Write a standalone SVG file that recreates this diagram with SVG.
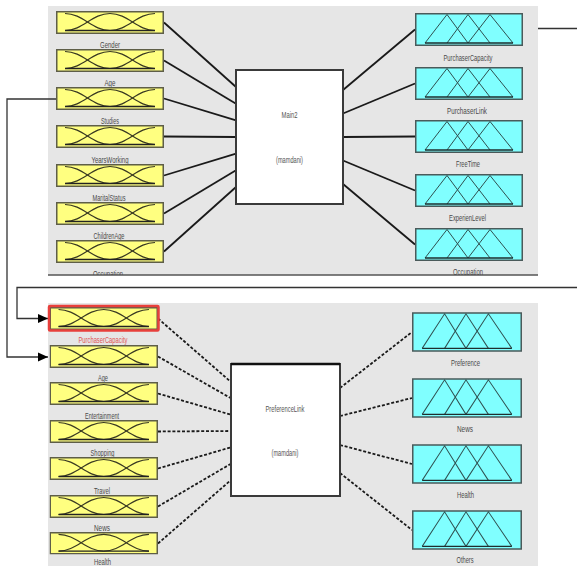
<svg xmlns="http://www.w3.org/2000/svg" xmlns:xlink="http://www.w3.org/1999/xlink" width="577" height="566" viewBox="0 0 577 566">
<style>
.lbl{font-family:"Liberation Sans",Arial,sans-serif;font-size:9px;fill:#4a4a4a;text-anchor:middle}
.red{fill:#e05555}
.con{fill:none;stroke:#1a1a1a;stroke-width:1.8}
.dash{fill:none;stroke:#1a1a1a;stroke-width:1.8;stroke-dasharray:3 1.8}
.fb{fill:none;stroke:#333;stroke-width:1.3}
.sys{fill:#fff;stroke:#3a3a3a;stroke-width:2}
.sysl{font-family:"Liberation Sans",Arial,sans-serif;font-size:9px;fill:#555;text-anchor:middle}
</style>
<defs>
<symbol id="ymf" viewBox="0 0 108 23" preserveAspectRatio="none">
<rect x="0.75" y="0.75" width="106.5" height="21.5" fill="#ffff80" stroke="#5e5e48" stroke-width="1.5" vector-effect="non-scaling-stroke"/>
<g fill="none" stroke="#3a3a22" stroke-width="1.2">
<path d="M9,2.5 C27,2.5 36,19.5 54,19.5" vector-effect="non-scaling-stroke"/>
<path d="M9,19.5 C27,19.5 36,2.5 54,2.5 C72,2.5 81,19.5 99,19.5" vector-effect="non-scaling-stroke"/>
<path d="M54,19.5 C72,19.5 81,2.5 99,2.5" vector-effect="non-scaling-stroke"/>
<path d="M9,19.5 H99" stroke="#222" stroke-width="1.3" vector-effect="non-scaling-stroke"/>
</g>
</symbol>
<symbol id="cmf" viewBox="0 0 108 33" preserveAspectRatio="none">
<rect x="0.75" y="0.75" width="106.5" height="31.5" fill="#80ffff" stroke="#4a5a5a" stroke-width="1.5" vector-effect="non-scaling-stroke"/>
<g fill="none" stroke="#2f5050" stroke-width="1">
<path d="M10,30 L32,1.5 L53,30" vector-effect="non-scaling-stroke"/>
<path d="M32,30 L53,1.5 L75,30" vector-effect="non-scaling-stroke"/>
<path d="M53,30 L75,1.5 L98,30" vector-effect="non-scaling-stroke"/>
<path d="M10,30 H98" stroke="#1e2e2e" stroke-width="1.3" vector-effect="non-scaling-stroke"/>
</g>
</symbol>
<marker id="arr" markerUnits="userSpaceOnUse" markerWidth="11" markerHeight="10" refX="10" refY="5" orient="auto">
<path d="M0,0.5 L10,5 L0,9.5 Z" fill="#000"/>
</marker>
<clipPath id="clipTop"><rect x="48" y="6" width="490" height="269"/></clipPath>
</defs>

<g id="panel-top">
<rect x="48" y="6" width="490" height="269" fill="#e6e6e6"/>
<line x1="48" y1="275" x2="538" y2="275" stroke="#555" stroke-width="1.5"/>
</g>
<g id="panel-bottom">
<rect x="48" y="303" width="490" height="263" fill="#e6e6e6"/>
</g>

<g id="connectors">
<path class="con" d="M164,22.5 L236,87"/>
<path class="con" d="M164,60.5 L236,103.7"/>
<path class="con" d="M164,98.5 L236,120.3"/>
<path class="con" d="M164,136.5 L236,137"/>
<path class="con" d="M164,175.5 L236,153.7"/>
<path class="con" d="M164,213.5 L236,170.3"/>
<path class="con" d="M164,251.5 L236,187"/>
<path class="con" d="M343,90 L415,29.5"/>
<path class="con" d="M343,113.5 L415,83.5"/>
<path class="con" d="M343,137 L415,136.5"/>
<path class="con" d="M343,160.5 L415,190.5"/>
<path class="con" d="M343,184 L415,244.5"/>
<path class="dash" d="M158,318.5 L231,382"/>
<path class="dash" d="M158,356.5 L231,398.3"/>
<path class="dash" d="M158,393.5 L231,414.7"/>
<path class="dash" d="M158,431.5 L231,431"/>
<path class="dash" d="M158,468.5 L231,447.3"/>
<path class="dash" d="M158,506.5 L231,463.7"/>
<path class="dash" d="M158,543.5 L231,480"/>
<path class="dash" d="M340,388 L412,332"/>
<path class="dash" d="M340,416 L412,398"/>
<path class="dash" d="M340,445 L412,464"/>
<path class="dash" d="M340,473 L412,530"/>
<path class="fb" d="M538,28.5 H577"/>
<path class="fb" d="M56,99 H7 V357 H48" marker-end="url(#arr)"/>
<path class="fb" d="M577,287.5 H17 V318.5 H48" marker-end="url(#arr)"/>
</g>

<g clip-path="url(#clipTop)">
<g id="in-gender"><use xlink:href="#ymf" x="56" y="11" width="108" height="23"/><text class="lbl" x="110" y="47.5" textLength="20" lengthAdjust="spacingAndGlyphs">Gender</text></g>
<g id="in-age"><use xlink:href="#ymf" x="56" y="49" width="108" height="23"/><text class="lbl" x="110" y="85.5" textLength="11" lengthAdjust="spacingAndGlyphs">Age</text></g>
<g id="in-studies"><use xlink:href="#ymf" x="56" y="87" width="108" height="23"/><text class="lbl" x="110" y="123.5" textLength="18" lengthAdjust="spacingAndGlyphs">Studies</text></g>
<g id="in-yearsworking"><use xlink:href="#ymf" x="56" y="125" width="108" height="23"/><text class="lbl" x="110" y="162.5" textLength="37" lengthAdjust="spacingAndGlyphs">YearsWorking</text></g>
<g id="in-maritalstatus"><use xlink:href="#ymf" x="56" y="164" width="108" height="23"/><text class="lbl" x="109" y="200.5" textLength="33" lengthAdjust="spacingAndGlyphs">MaritalStatus</text></g>
<g id="in-childrenage"><use xlink:href="#ymf" x="56" y="202" width="108" height="23"/><text class="lbl" x="109" y="238.5" textLength="31" lengthAdjust="spacingAndGlyphs">ChildrenAge</text></g>
<g id="in-occupation"><use xlink:href="#ymf" x="56" y="240" width="108" height="23"/><text class="lbl" x="108" y="277" textLength="30" lengthAdjust="spacingAndGlyphs">Occupation</text></g>

<g id="out-purchasercapacity"><use xlink:href="#cmf" x="415" y="13" width="108" height="33"/><text class="lbl" x="468" y="61" textLength="49" lengthAdjust="spacingAndGlyphs">PurchaserCapacity</text></g>
<g id="out-purchaserlink"><use xlink:href="#cmf" x="415" y="67" width="108" height="33"/><text class="lbl" x="467" y="114" textLength="40" lengthAdjust="spacingAndGlyphs">PurchaserLink</text></g>
<g id="out-freetime"><use xlink:href="#cmf" x="415" y="120" width="108" height="33"/><text class="lbl" x="468" y="167" textLength="24" lengthAdjust="spacingAndGlyphs">FreeTime</text></g>
<g id="out-experienlevel"><use xlink:href="#cmf" x="415" y="174" width="108" height="33"/><text class="lbl" x="467.5" y="221" textLength="37" lengthAdjust="spacingAndGlyphs">ExperienLevel</text></g>
<g id="out-occupation"><use xlink:href="#cmf" x="415" y="228" width="108" height="33"/><text class="lbl" x="468" y="275" textLength="30" lengthAdjust="spacingAndGlyphs">Occupation</text></g>
</g>

<g id="sys-main2">
<rect class="sys" x="236" y="70" width="107" height="134"/>
<text class="sysl" x="289.5" y="118" textLength="16" lengthAdjust="spacingAndGlyphs">Main2</text>
<text class="sysl" x="289.5" y="163" textLength="27" lengthAdjust="spacingAndGlyphs">(mamdani)</text>
</g>

<g id="in2-purchasercapacity">
<use xlink:href="#ymf" x="49.5" y="307" width="108.5" height="23"/>
<rect x="49" y="306" width="109.5" height="24.5" fill="none" stroke="#e8403c" stroke-width="2.5" rx="1"/>
<text class="lbl red" x="103" y="343" textLength="49" lengthAdjust="spacingAndGlyphs">PurchaserCapacity</text>
</g>
<g id="in2-age"><use xlink:href="#ymf" x="49.5" y="345" width="108.5" height="23"/><text class="lbl" x="103" y="381" textLength="10" lengthAdjust="spacingAndGlyphs">Age</text></g>
<g id="in2-entertainment"><use xlink:href="#ymf" x="49.5" y="382" width="108.5" height="23"/><text class="lbl" x="102" y="418.5" textLength="34" lengthAdjust="spacingAndGlyphs">Entertainment</text></g>
<g id="in2-shopping"><use xlink:href="#ymf" x="49.5" y="420" width="108.5" height="23"/><text class="lbl" x="102.5" y="455.5" textLength="24" lengthAdjust="spacingAndGlyphs">Shopping</text></g>
<g id="in2-travel"><use xlink:href="#ymf" x="49.5" y="457" width="108.5" height="23"/><text class="lbl" x="102" y="493.5" textLength="16" lengthAdjust="spacingAndGlyphs">Travel</text></g>
<g id="in2-news"><use xlink:href="#ymf" x="49.5" y="495" width="108.5" height="23"/><text class="lbl" x="102" y="530.5" textLength="16" lengthAdjust="spacingAndGlyphs">News</text></g>
<g id="in2-health"><use xlink:href="#ymf" x="49.5" y="532" width="108.5" height="22.5"/><text class="lbl" x="102.5" y="564.5" textLength="17" lengthAdjust="spacingAndGlyphs">Health</text></g>

<g id="sys-preferencelink">
<rect class="sys" x="231" y="364" width="109" height="132"/>
<line x1="231" y1="364" x2="340" y2="364" stroke="#111" stroke-width="2.5"/>
<text class="sysl" x="285" y="412" textLength="39" lengthAdjust="spacingAndGlyphs">PreferenceLink</text>
<text class="sysl" x="285" y="456" textLength="27" lengthAdjust="spacingAndGlyphs">(mamdani)</text>
</g>

<g id="out2-preference"><use xlink:href="#cmf" x="412" y="312" width="110" height="40"/><text class="lbl" x="465.5" y="366" textLength="29" lengthAdjust="spacingAndGlyphs">Preference</text></g>
<g id="out2-news"><use xlink:href="#cmf" x="412" y="378" width="110" height="40"/><text class="lbl" x="465" y="432" textLength="16" lengthAdjust="spacingAndGlyphs">News</text></g>
<g id="out2-health"><use xlink:href="#cmf" x="412" y="444" width="110" height="40"/><text class="lbl" x="465.5" y="497.5" textLength="17" lengthAdjust="spacingAndGlyphs">Health</text></g>
<g id="out2-others"><use xlink:href="#cmf" x="412" y="510" width="110" height="40"/><text class="lbl" x="465" y="563" textLength="17" lengthAdjust="spacingAndGlyphs">Others</text></g>
</svg>
